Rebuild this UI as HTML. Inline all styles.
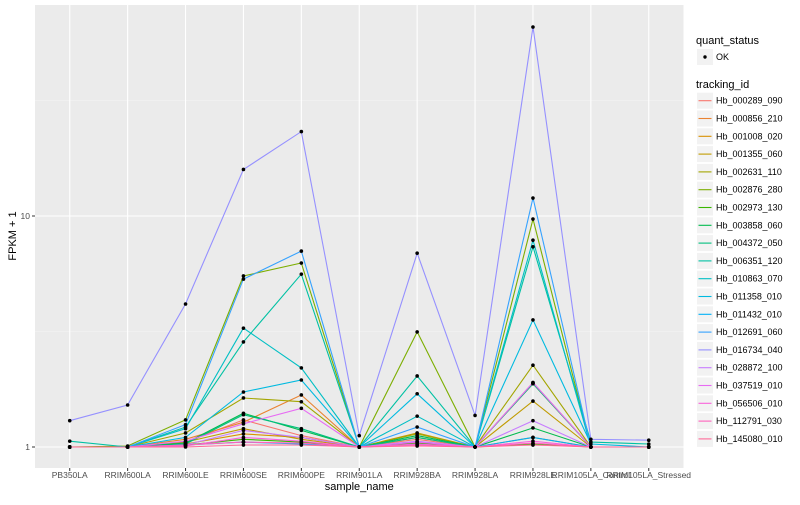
<!DOCTYPE html>
<html><head><meta charset="utf-8"><style>
body{margin:0;background:#fff;font-family:"Liberation Sans",sans-serif}
svg text{font-family:"Liberation Sans",sans-serif}
</style></head><body>
<svg id="chart" width="800" height="500" xmlns="http://www.w3.org/2000/svg"></svg>
<script>
const categories=["PB350LA","RRIM600LA","RRIM600LE","RRIM600SE","RRIM600PE","RRIM901LA","RRIM928BA","RRIM928LA","RRIM928LE","RRIM105LA_Control","RRIM105LA_Stressed"];
const seriesNames=["Hb_000289_090","Hb_000856_210","Hb_001008_020","Hb_001355_060","Hb_002631_110","Hb_002876_280","Hb_002973_130","Hb_003858_060","Hb_004372_050","Hb_006351_120","Hb_010863_070","Hb_011358_010","Hb_011432_010","Hb_012691_060","Hb_016734_040","Hb_028872_100","Hb_037519_010","Hb_056506_010","Hb_112791_030","Hb_145080_010"];
const s000289=[1,1,1.05,1.31,1.12,1,1.08,1,1.9,1,1];
const s000856=[1,1,1.08,1.28,1.68,1,1.1,1,1.88,1,1];
const s001008=[1,1,1.03,1.14,1.1,1,1.05,1,1.1,1,1];
const s001355=[1,1,1.05,1.2,1.08,1,1.15,1,1.58,1,1];
const s002631=[1,1,1.15,1.63,1.57,1,1.14,1,2.26,1,1];
const s002876=[1,1.01,1.31,5.5,6.26,1,3.15,1,9.7,1,1];
const s002973=[1,1,1.02,1.08,1.05,1,1.04,1,1.03,1,1];
const s003858=[1,1,1.04,1.4,1.18,1,1.12,1,1.21,1,1];
const s004372=[1,1,1.03,1.38,1.2,1,1.1,1,1.88,1,1];
const s006351=[1.06,1,1.22,2.85,5.6,1,2.03,1,7.36,1.05,1.03];
const s010863=[1,1,1.2,3.27,2.2,1,1.36,1,7.86,1,1];
const s011358=[1,1,1.1,1.73,1.95,1,1.7,1,3.55,1.03,1];
const s011432=[1,1,1.02,1.05,1.03,1,1.02,1,1.1,1,1];
const s012691=[1,1,1.25,5.33,7.05,1,1.22,1,11.96,1,1];
const s016734=[1.3,1.52,4.16,15.9,23.2,1.12,6.9,1.37,65.8,1.08,1.07];
const s028872=[1,1,1.02,1.18,1.1,1,1.06,1,1.3,1,1];
const s037519=[1,1,1.06,1.26,1.47,1,1.05,1,1.9,1,1];
const s056506=[1,1,1.01,1.1,1.06,1,1.03,1,1.06,1,1];
const s112791=[1,1,1.02,1.05,1.04,1,1.02,1,1.04,1,1];
const s145080=[1,1,1,1.02,1.02,1,1.01,1,1.02,1,1];
const seriesValues=[s000289,s000856,s001008,s001355,s002631,s002876,s002973,s003858,s004372,s006351,s010863,s011358,s011432,s012691,s016734,s028872,s037519,s056506,s112791,s145080];
const yTickValues=[1,10];
const yTickLabels=["1","10"];

const NS="http://www.w3.org/2000/svg";
const svg=document.getElementById("chart");
function mk(tag,attrs,parent){const e=document.createElementNS(NS,tag);for(const k in attrs)e.setAttribute(k,attrs[k]);(parent||svg).appendChild(e);return e;}
const PL=35,PR=683.5,PT=5,PB=468;
const step=(PR-PL)/(categories.length+0.2);
function xPos(i){return PL+step*(0.6+i);}
function yPos(v){return 447-231*Math.log10(v);}
function hcl(h){const L=65,C=100,hr=h*Math.PI/180;const u=C*Math.cos(hr),v=C*Math.sin(hr);
 const Y=Math.pow((L+16)/116,3);const up=u/(13*L)+0.19784,vp=v/(13*L)+0.46834;
 const X=Y*9*up/(4*vp),Z=Y*(12-3*up-20*vp)/(4*vp);
 let r=3.2406*X-1.5372*Y-0.4986*Z,g=-0.9689*X+1.8758*Y+0.0415*Z,b=0.0557*X-0.2040*Y+1.0570*Z;
 const gm=c=>{c=c<=0.0031308?12.92*c:1.055*Math.pow(c,1/2.4)-0.055;return Math.round(Math.max(0,Math.min(1,c))*255);};
 return "rgb("+gm(r)+","+gm(g)+","+gm(b)+")";}
const colors=seriesNames.map((n,i)=>hcl(15+i*360/seriesNames.length));

const panel=mk("rect",{x:PL,y:PT,width:PR-PL,height:PB-PT,fill:"#ebebeb"});


[Math.sqrt(10),Math.sqrt(1000)].forEach(v=>{const l=mk("line",{x1:PL,x2:PR,y1:yPos(v),y2:yPos(v),stroke:"#f5f5f5","stroke-width":0.6});

});
yTickValues.forEach((v,i)=>{const y=yPos(v);
 const g=mk("line",{x1:PL,x2:PR,y1:y,y2:y,stroke:"#fff","stroke-width":1.1});
 
 
 mk("line",{x1:PL-3,x2:PL,y1:y,y2:y,stroke:"#333"});
 const t=mk("text",{x:PL-5,y:y+3,"text-anchor":"end","font-size":"8.5",fill:"#4d4d4d"});t.textContent=yTickLabels[i];
 
 });
categories.forEach((c,i)=>{const x=xPos(i);
 const g=mk("line",{x1:x,x2:x,y1:PT,y2:PB,stroke:"#fff","stroke-width":1.1});
 
 
 mk("line",{x1:x,x2:x,y1:PB,y2:PB+3,stroke:"#333"});
 const t=mk("text",{x:x,y:PB+10,"text-anchor":"middle","font-size":"8.5",fill:"#4d4d4d"});t.textContent=c;
 
 });
seriesValues.forEach((vals,si)=>{const pts=vals.map((v,i)=>xPos(i).toFixed(1)+","+yPos(v).toFixed(1)).join(" ");
 const p=mk("polyline",{points:pts,fill:"none",stroke:colors[si],"stroke-width":1.1});
 
 });
seriesValues.forEach((vals,si)=>{vals.forEach((v,i)=>{
 const c=mk("circle",{cx:xPos(i),cy:yPos(v),r:1.8,fill:"#000"});
 
 });});
const xt=mk("text",{x:(PL+PR)/2,y:490,"text-anchor":"middle","font-size":"11",fill:"#000"});xt.textContent="sample_name";


const yt=mk("text",{x:0,y:0,"text-anchor":"middle","font-size":"11",fill:"#000",transform:"translate(16,236) rotate(-90)"});yt.textContent="FPKM + 1";


const lg=mk("g",{});


const qt=mk("text",{x:696,y:44,"font-size":"11",fill:"#000"},lg);qt.textContent="quant_status";


mk("rect",{x:697,y:49,width:16,height:16,fill:"#f2f2f2"},lg);
mk("circle",{cx:705,cy:57,r:1.7,fill:"#000"},lg);
const ok=mk("text",{x:716,y:60,"font-size":"9",fill:"#000"},lg);ok.textContent="OK";


const tt=mk("text",{x:696,y:88,"font-size":"11",fill:"#000"},lg);tt.textContent="tracking_id";


seriesNames.forEach((n,i)=>{const y=100.7+i*17.8;
 mk("rect",{x:697,y:y-8,width:16,height:16,fill:"#f2f2f2"},lg);
 mk("line",{x1:698.5,x2:711.5,y1:y,y2:y,stroke:colors[i],"stroke-width":1.1},lg);
 const t=mk("text",{x:716,y:y+3,"font-size":"9",fill:"#000"},lg);t.textContent=n;
 
 });
</script>
</body></html>
